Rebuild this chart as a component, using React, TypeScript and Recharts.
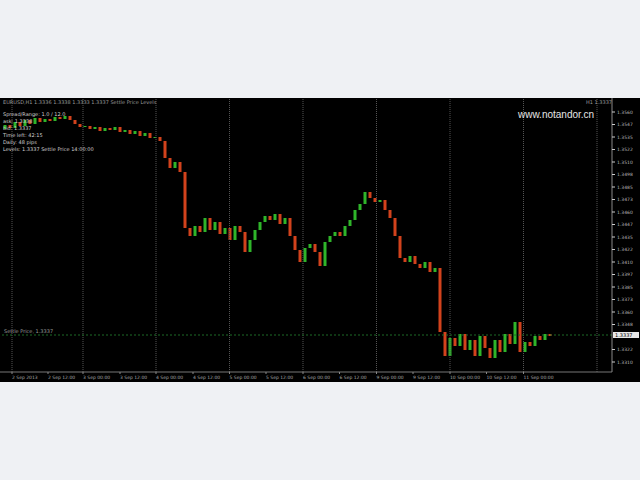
import { ComposedChart, Bar, XAxis, YAxis, ReferenceLine } from "recharts";

// closing prices, one per hourly candle
const closes = [
  1.3547, 1.3544, 1.355, 1.3546, 1.3552, 1.3548, 1.3554, 1.355, 1.3553, 1.3551,
  1.3555, 1.3553, 1.3556, 1.3552, 1.3548, 1.3545, 1.3546, 1.3543, 1.3545, 1.3541,
  1.3544, 1.3542, 1.3545, 1.354, 1.3542, 1.3538, 1.3541, 1.3536, 1.3539, 1.3534,
  1.3535, 1.3531, 1.3514, 1.3504, 1.351, 1.35, 1.3444, 1.3436, 1.3446, 1.344,
  1.3454, 1.3442, 1.345, 1.3438, 1.3444, 1.3432, 1.3446, 1.344, 1.342, 1.3432,
  1.3442, 1.345, 1.3456, 1.3452, 1.3458, 1.3448, 1.3454, 1.3436, 1.3422, 1.341,
  1.3424, 1.3428, 1.342, 1.3406, 1.343, 1.3436, 1.344, 1.3436, 1.3446, 1.3452,
  1.3462, 1.3468, 1.348, 1.3474, 1.347, 1.3472, 1.3462, 1.3454, 1.3436, 1.3414,
  1.341, 1.3416, 1.3408, 1.3404, 1.341, 1.34, 1.3404, 1.334, 1.3316, 1.3334,
  1.3326, 1.3338, 1.3322, 1.3332, 1.3316, 1.3336, 1.3324, 1.3314, 1.3332, 1.332,
  1.3338, 1.3328, 1.335, 1.332, 1.333, 1.3326, 1.3336, 1.3332, 1.3338, 1.3336,
];
const firstOpen = 1.3543;
const lastPrice = 1.3337;

const priceTicks = [
  1.331, 1.33225, 1.33475, 1.336, 1.33725, 1.3385, 1.33975, 1.341, 1.34225,
  1.3435, 1.34475, 1.346, 1.34725, 1.3485, 1.34975, 1.351, 1.35225, 1.3535, 1.35475, 1.356,
];
const gridTimes = [2.4, 16.6, 31.2, 45.9, 60.6, 75.3, 90, 104.7, 119.4];
const timeTicks = [2.4, 9.6, 16.6, 24, 31.2, 38.6, 45.9, 53.2, 60.6, 67.9, 75.3, 82.6, 90, 97.3, 104.7];
const timeLabels = [
  "2 Sep 2013", "2 Sep 12:00", "3 Sep 00:00", "3 Sep 12:00", "4 Sep 00:00",
  "4 Sep 12:00", "5 Sep 00:00", "5 Sep 12:00", "6 Sep 00:00", "6 Sep 12:00",
  "9 Sep 00:00", "9 Sep 12:00", "10 Sep 00:00", "10 Sep 12:00", "11 Sep 00:00",
];
const infoLines = [
  "Spread/Range: 1.0 / 12.0",
  "ask: 1.3338",
  "bid: 1.3337",
  "Time left: 42:15",
  "Daily: 48 pips",
  "Levels: 1.3337 Settle Price 14:00:00",
];

const candles = closes.map((c, i) => {
  const o = i === 0 ? firstOpen : closes[i - 1];
  return { t: i + 1, range: [Math.min(o, c), Math.max(o, c)], up: c >= o };
});

const Candle = (props: any) => {
  const { x, y, width, height, payload } = props;
  const top = Math.min(y, y + height);
  const h = Math.max(1, Math.abs(height));
  return <rect x={x} y={top} width={width} height={h} fill={payload.up ? "#2fb52a" : "#d2421c"} />;
};

const PriceTag = (props: any) => {
  const vb = props.viewBox;
  return (
    <g>
      <text x={vb.x + 4} y={vb.y - 2} fill="#9a9a9a" fontSize={5}>Settle Price, 1.3337</text>
      <rect x={vb.x + vb.width + 1} y={vb.y - 3} width={26} height={6} fill="#e8e8e8" />
      <text x={vb.x + vb.width + 3} y={vb.y + 2} fill="#000" fontSize={5}>{lastPrice.toFixed(4)}</text>
    </g>
  );
};

const fontFamily = "'DejaVu Sans', sans-serif";

export default function App() {
  return (
    <div style={{ position: "absolute", left: 0, top: 0, width: 640, height: 480, background: "#eff1f4", fontFamily }}>
      <div style={{ position: "absolute", left: 0, top: 98, width: 640, height: 284, background: "#000" }}>
        <ComposedChart
          width={640}
          height={284}
          data={candles}
          margin={{ top: 0, right: 0, bottom: 0, left: 0 }}
          style={{ fontFamily }}
        >
          <XAxis
            dataKey="t"
            type="number"
            domain={[0, 122.4]}
            ticks={timeTicks}
            tickFormatter={(v: number) => timeLabels[timeTicks.indexOf(v)] ?? ""}
            tick={{ fontSize: 4.5, fill: "#a8a8a8", textAnchor: "start" }}
            tickLine={{ stroke: "#888" }}
            tickSize={2}
            axisLine={{ stroke: "#777" }}
            height={10}
            interval={0}
            allowDataOverflow
          />
          <YAxis
            orientation="right"
            type="number"
            domain={[1.33, 1.3574]}
            ticks={priceTicks}
            tickFormatter={(v: number) => v.toFixed(4)}
            tick={{ fontSize: 4.5, fill: "#b8b8b8" }}
            tickLine={{ stroke: "#ccc" }}
            tickSize={3}
            axisLine={{ stroke: "#888" }}
            width={28}
            interval={0}
            allowDataOverflow
          />
          {gridTimes.map((g) => (
            <ReferenceLine key={g} x={g} stroke="#555" strokeDasharray="1 1" />
          ))}
          <ReferenceLine y={lastPrice} stroke="#1d6a26" strokeDasharray="2 2" label={<PriceTag />} />
          <Bar dataKey="range" barSize={3} shape={<Candle />} isAnimationActive={false} />
        </ComposedChart>
        <div style={{ position: "absolute", left: 3, top: 1, fontSize: 5, color: "#9a9a9a", whiteSpace: "nowrap" }}>
          EURUSD,H1 1.3336 1.3338 1.3333 1.3337 Settle Price Levels
        </div>
        <div style={{ position: "absolute", left: 586, top: 1, fontSize: 5, color: "#9a9a9a" }}>H1 1.3337</div>
        <div style={{ position: "absolute", left: 3, top: 13, fontSize: 5, lineHeight: "7px", color: "#d0d0d0", whiteSpace: "nowrap" }}>
          {infoLines.map((l) => (
            <div key={l}>{l}</div>
          ))}
        </div>
        <div
          style={{
            position: "absolute",
            left: 518,
            top: 11,
            fontSize: 10,
            color: "#e6e6e6",
            fontFamily: "'Liberation Sans', sans-serif",
          }}
        >
          www.notandor.cn
        </div>
      </div>
    </div>
  );
}
